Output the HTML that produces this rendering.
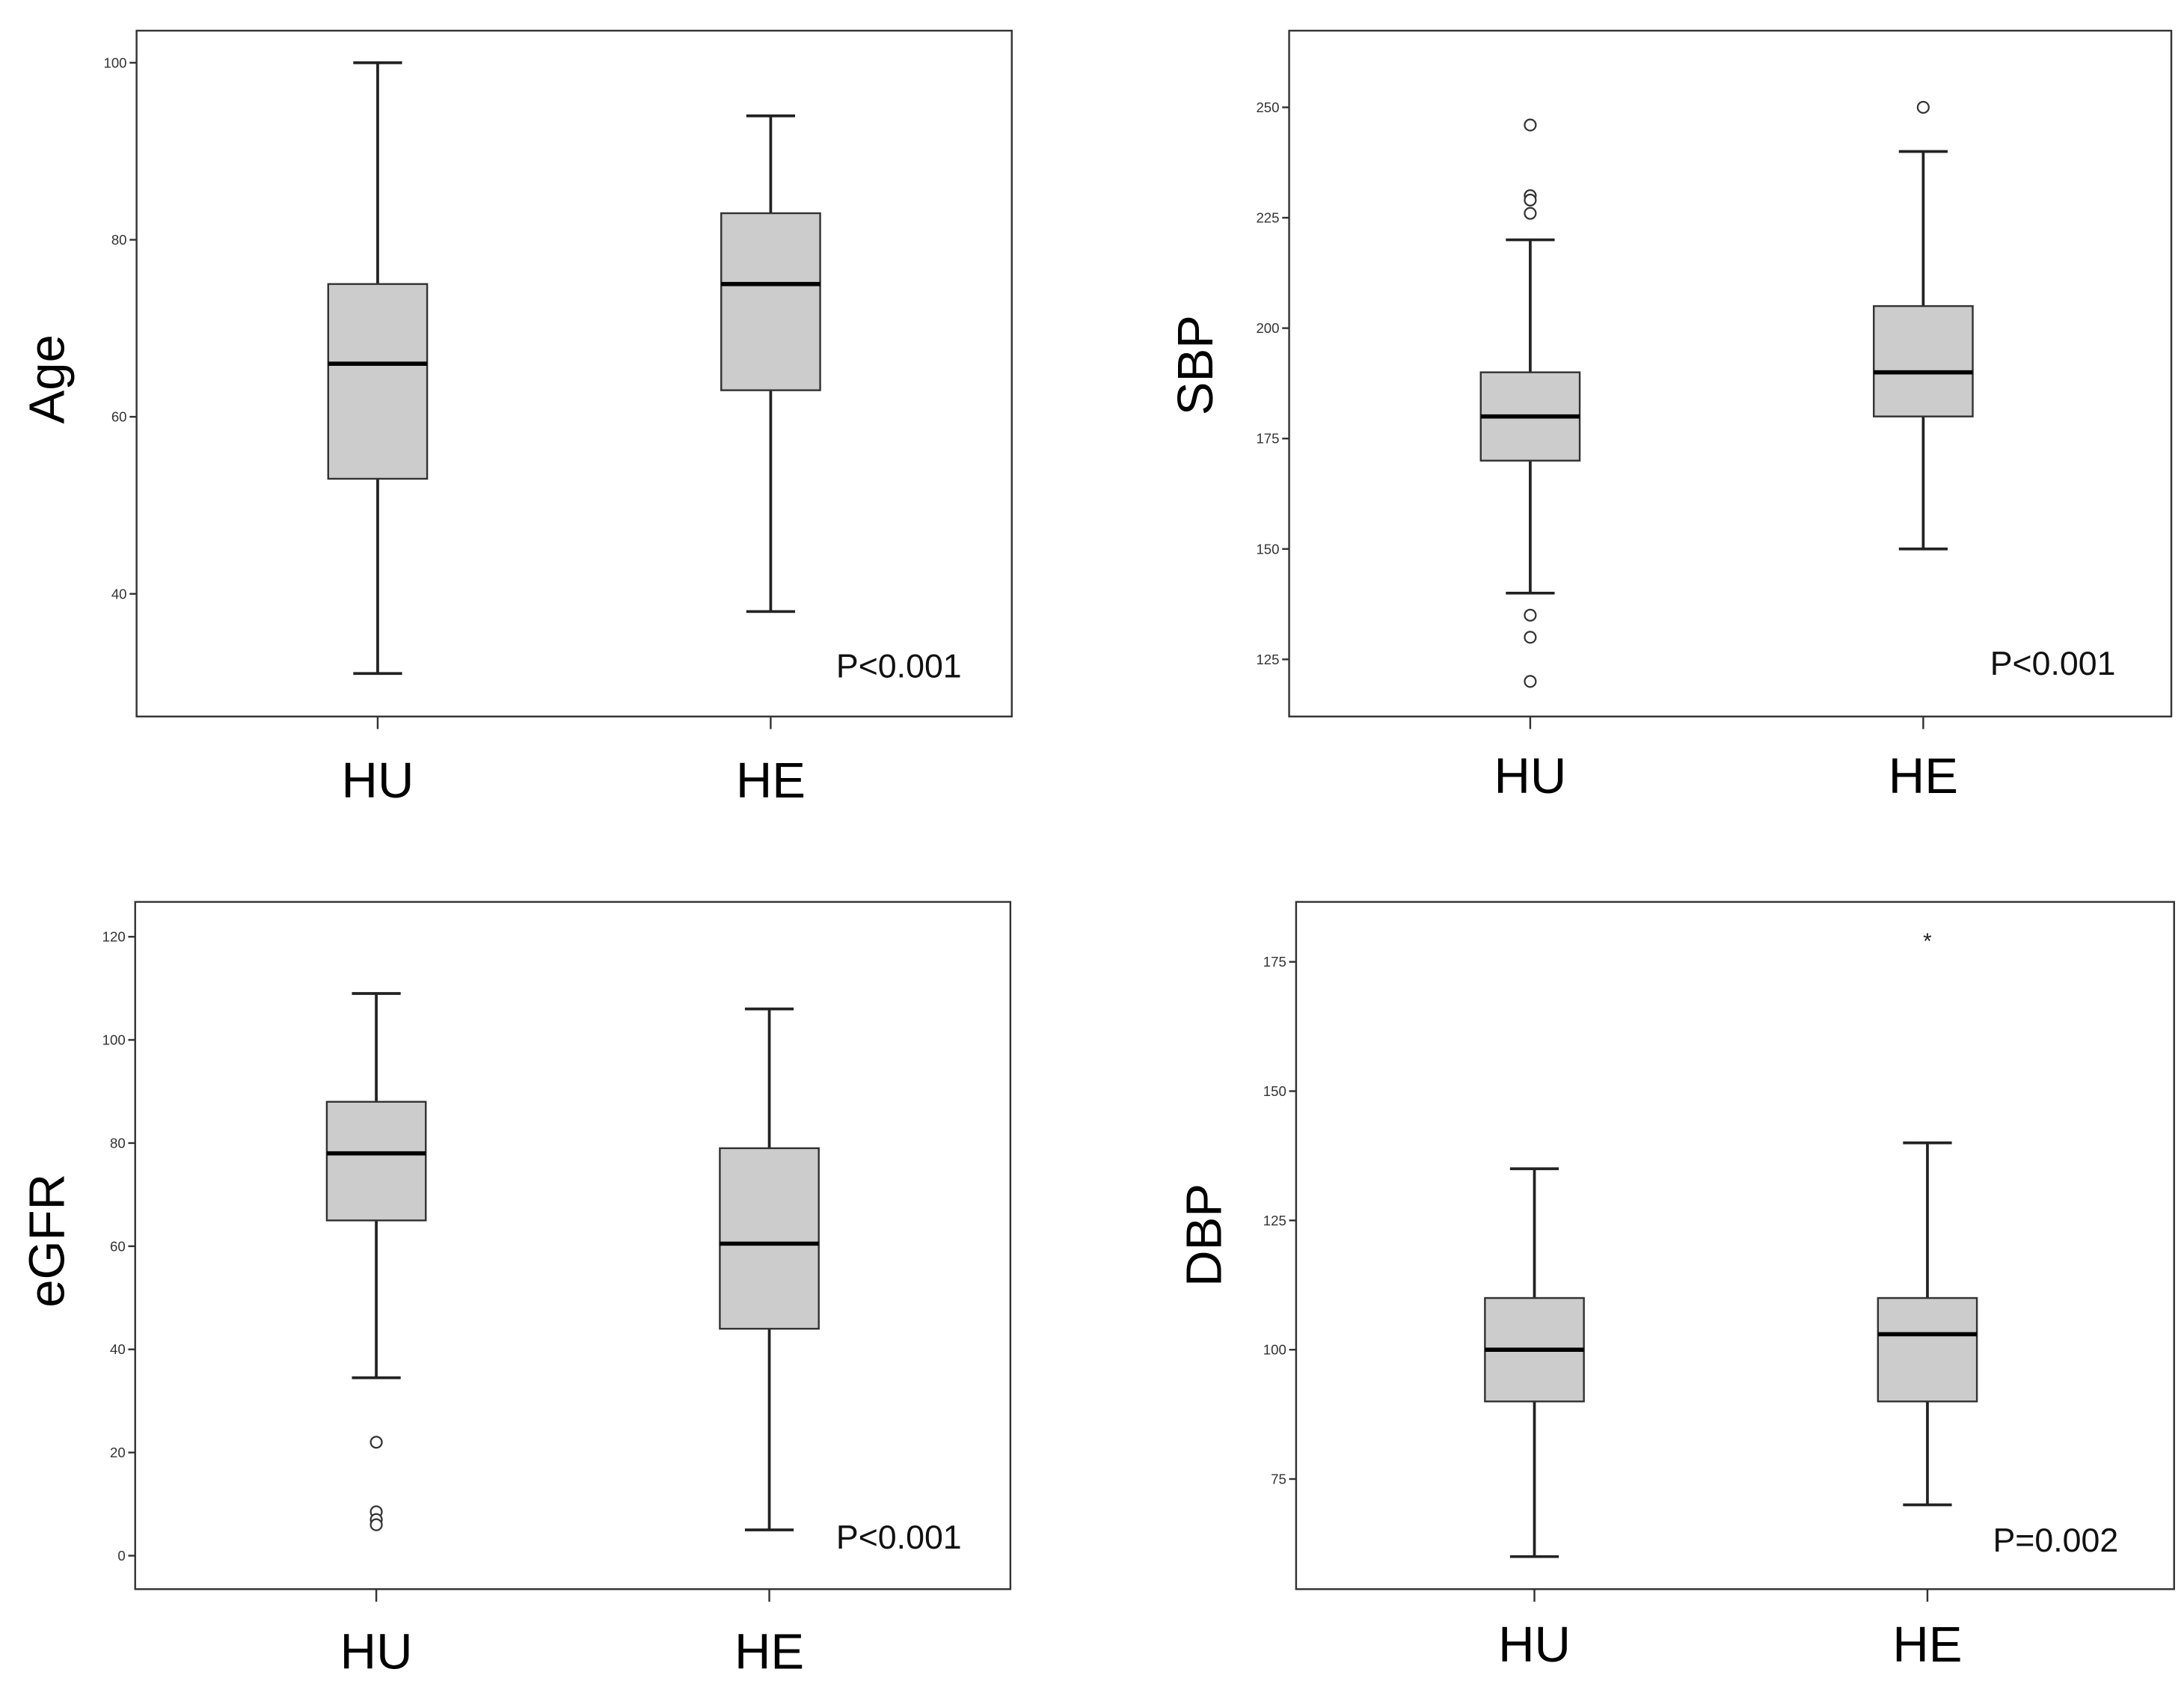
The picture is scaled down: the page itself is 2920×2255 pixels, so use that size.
<!DOCTYPE html>
<html><head><meta charset="utf-8"><style>
html,body{margin:0;padding:0;background:#fff;}
svg{display:block;font-family:"Liberation Sans",sans-serif;}
</style></head><body>
<svg id="fig" width="2920" height="2255" viewBox="0 0 1567.1 1210.2" xmlns="http://www.w3.org/2000/svg"></svg>
<script>
// ---- data ----
const groups = ["HU","HE"];
const ageTicks = [40,60,80,100];
const ageStats = [[31,53,66,75,100],[38,63,75,83,94]];
const ageOutliers = [[],[]];
const sbpTicks = [125,150,175,200,225,250];
const sbpStats = [[140,170,180,190,220],[150,180,190,205,240]];
const sbpOutliers = [[246,230,229,226,135,130,120],[250]];
const egfrTicks = [0,20,40,60,80,100,120];
const egfrStats = [[34.5,65,78,88,109],[5,44,60.5,79,106]];
const egfrOutliers = [[22,8.5,7,6],[]];
const dbpTicks = [75,100,125,150,175];
const dbpStats = [[60,90,100,110,135],[70,90,103,110,140]];
const dbpOutliers = [[],[]];
const dbpExtremes = [[],[180]];

const NS="http://www.w3.org/2000/svg";
const svg=document.getElementById('fig');
function mk(tag,attrs,parent){const e=document.createElementNS(NS,tag);for(const k in attrs)e.setAttribute(k,attrs[k]);(parent||svg).appendChild(e);return e;}

function panel(cfg){
  const g=mk('g',{});
  
  
  // y scale from two reference ticks
  const t0=cfg.ticks[0], t1=cfg.ticks[cfg.ticks.length-1];
  const y=v=>cfg.yt0+(v-t0)*(cfg.yt1-cfg.yt0)/(t1-t0);
  const frame=mk('rect',{x:cfg.x0,y:cfg.y0,width:cfg.x1-cfg.x0,height:cfg.y1-cfg.y0,fill:'none',stroke:'#333','stroke-width':1.3},g);
  
  
  cfg.ticks.forEach(t=>{
    mk('line',{x1:cfg.x0-5,x2:cfg.x0,y1:y(t),y2:y(t),stroke:'#333','stroke-width':1.3},g);
    const tx=mk('text',{x:cfg.x0-7,y:y(t)+3.5,'font-size':10,'text-anchor':'end',fill:'#333'},g);
    tx.textContent=t;
    
    
  });
  const yl=mk('text',{x:0,y:0,'font-size':36,'text-anchor':'middle',fill:'#000',transform:`translate(${cfg.ylx},${cfg.yly}) rotate(-90)`},g);
  yl.textContent=cfg.title;
  
  
  groups.forEach((gr,i)=>{
    const cx=cfg.cx[i], s=cfg.stats[i], hw=35.5, cw=17.5;
    mk('line',{x1:cx,x2:cx,y1:cfg.y1,y2:cfg.y1+9,stroke:'#333','stroke-width':1.3},g);
    const lab=mk('text',{x:cx,y:cfg.labY,'font-size':36,'text-anchor':'middle',fill:'#000'},g);
    lab.textContent=gr;
    
    
    mk('line',{x1:cx,x2:cx,y1:y(s[0]),y2:y(s[1]),stroke:'#222','stroke-width':2},g);
    mk('line',{x1:cx,x2:cx,y1:y(s[3]),y2:y(s[4]),stroke:'#222','stroke-width':2},g);
    mk('line',{x1:cx-cw,x2:cx+cw,y1:y(s[0]),y2:y(s[0]),stroke:'#222','stroke-width':2},g);
    mk('line',{x1:cx-cw,x2:cx+cw,y1:y(s[4]),y2:y(s[4]),stroke:'#222','stroke-width':2},g);
    const b=mk('rect',{x:cx-hw,y:y(s[3]),width:2*hw,height:y(s[1])-y(s[3]),fill:'#cccccc',stroke:'#333','stroke-width':1.3},g);
    
    
    mk('line',{x1:cx-hw,x2:cx+hw,y1:y(s[2]),y2:y(s[2]),stroke:'#000','stroke-width':3},g);
    (cfg.out[i]||[]).forEach(v=>{
      const c=mk('circle',{cx:cx,cy:y(v),r:4,fill:'#fff',stroke:'#333','stroke-width':1.2},g);
      
      
    });
    ((cfg.ext||[])[i]||[]).forEach(v=>{
      const st=mk('text',{x:cx,y:y(v)+9,'font-size':16,'text-anchor':'middle',fill:'#222'},g);
      st.textContent='*';
      
      
    });
  });
  const p=mk('text',{x:cfg.px,y:cfg.py,'font-size':24,'text-anchor':'end',fill:'#111'},g);
  p.textContent=cfg.p;
  
  
}

panel({name:'age',title:'Age',ticks:ageTicks,stats:ageStats,out:ageOutliers,x0:98,x1:726,y0:22,y1:514,yt0:426,yt1:45,cx:[271,553],ylx:46,yly:272,labY:572,p:'P<0.001',px:690,py:486});
panel({name:'sbp',title:'SBP',ticks:sbpTicks,stats:sbpStats,out:sbpOutliers,x0:925,x1:1558,y0:22,y1:514,yt0:473,yt1:77,cx:[1098,1380],ylx:870,yly:262,labY:569,p:'P<0.001',px:1518,py:484});
panel({name:'egfr',title:'eGFR',ticks:egfrTicks,stats:egfrStats,out:egfrOutliers,x0:97,x1:725,y0:647,y1:1140,yt0:1116,yt1:672,cx:[270,552],ylx:46,yly:890,labY:1197,p:'P<0.001',px:690,py:1111});
panel({name:'dbp',title:'DBP',ticks:dbpTicks,stats:dbpStats,out:dbpOutliers,ext:dbpExtremes,x0:930,x1:1560,y0:647,y1:1140,yt0:1061,yt1:690,cx:[1101,1383],ylx:876,yly:886,labY:1192,p:'P=0.002',px:1520,py:1113});
</script>
</body></html>
